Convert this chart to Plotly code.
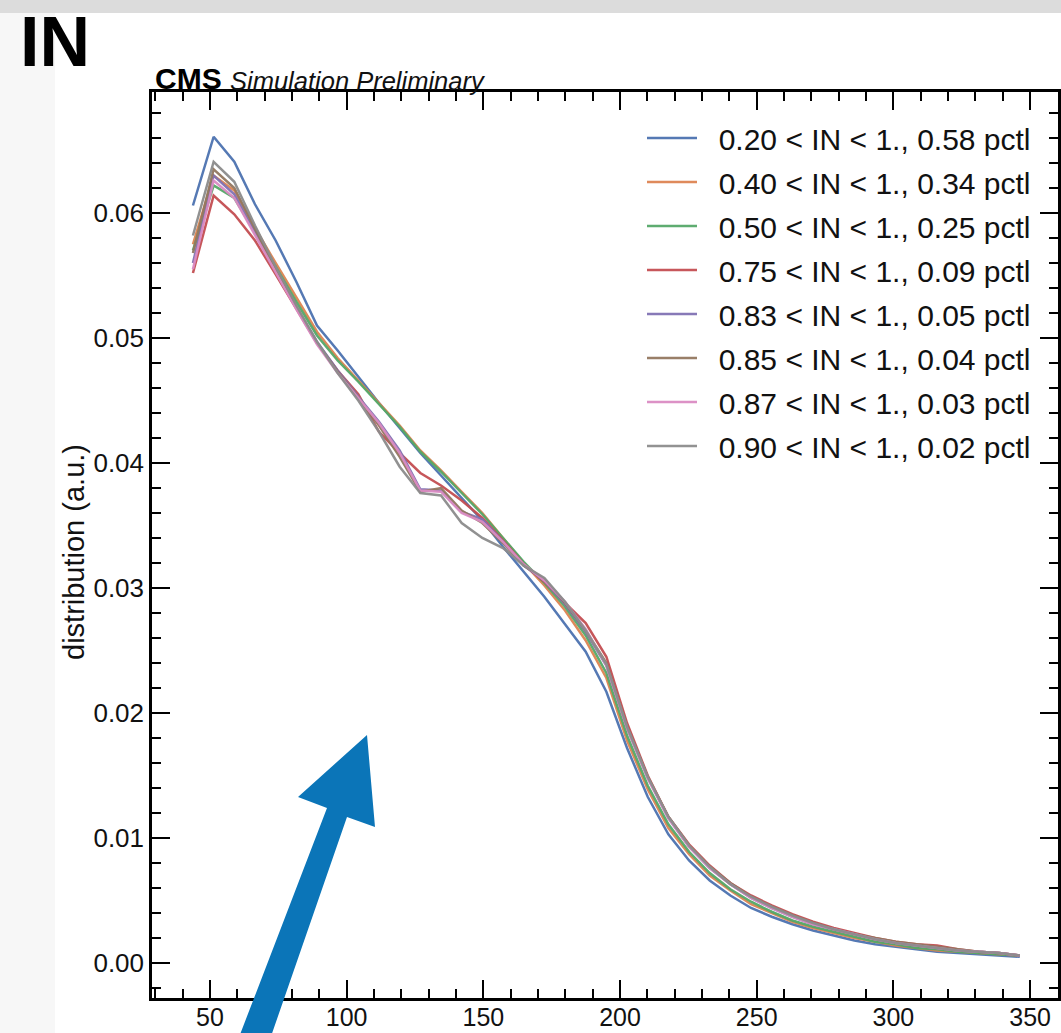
import plotly.graph_objects as go

# ---- data ----
bin_lo, bin_hi, n_bins = 40.0, 350.0, 41
bin_centers = [bin_lo + (i + 0.5) * (bin_hi - bin_lo) / n_bins for i in range(n_bins)]

labels = [
    "0.20 < IN < 1., 0.58 pctl",
    "0.40 < IN < 1., 0.34 pctl",
    "0.50 < IN < 1., 0.25 pctl",
    "0.75 < IN < 1., 0.09 pctl",
    "0.83 < IN < 1., 0.05 pctl",
    "0.85 < IN < 1., 0.04 pctl",
    "0.87 < IN < 1., 0.03 pctl",
    "0.90 < IN < 1., 0.02 pctl",
]
colors = ["#4c72b0", "#dd8452", "#55a868", "#c44e52", "#8172b3", "#937860", "#da8bc3", "#8c8c8c"]

y_020 = [0.0606, 0.0661, 0.0641, 0.0607, 0.0578, 0.0545, 0.0510, 0.0490, 0.0469, 0.0448, 0.0428, 0.0408,
         0.0390, 0.0372, 0.0354, 0.0333, 0.0313, 0.0293, 0.0271, 0.0249, 0.0217, 0.0172, 0.0133, 0.0103,
         0.0082, 0.0066, 0.0054, 0.0044, 0.0037, 0.0031, 0.0026, 0.0022, 0.0018, 0.0015, 0.0013, 0.0011,
         0.0009, 0.0008, 0.0007, 0.0006, 0.0005]
y_040 = [0.0575, 0.0630, 0.0618, 0.0588, 0.0560, 0.0532, 0.0505, 0.0484, 0.0466, 0.0448, 0.0430, 0.0410,
         0.0394, 0.0377, 0.0360, 0.0340, 0.0320, 0.0302, 0.0282, 0.0258, 0.0228, 0.0178, 0.0139, 0.0108,
         0.0087, 0.0070, 0.0058, 0.0047, 0.0040, 0.0033, 0.0028, 0.0024, 0.0020, 0.0017, 0.0014, 0.0012,
         0.0010, 0.0009, 0.0008, 0.0007, 0.0006]
y_050 = [0.0570, 0.0622, 0.0612, 0.0585, 0.0557, 0.0529, 0.0502, 0.0482, 0.0465, 0.0447, 0.0429, 0.0409,
         0.0393, 0.0376, 0.0359, 0.0340, 0.0321, 0.0304, 0.0285, 0.0262, 0.0232, 0.0182, 0.0142, 0.0111,
         0.0089, 0.0072, 0.0059, 0.0049, 0.0041, 0.0034, 0.0029, 0.0025, 0.0021, 0.0017, 0.0015, 0.0012,
         0.0011, 0.0009, 0.0008, 0.0007, 0.0006]
y_075 = [0.0552, 0.0614, 0.0599, 0.0578, 0.0551, 0.0523, 0.0496, 0.0474, 0.0455, 0.0425, 0.0408, 0.0392,
         0.0382, 0.0370, 0.0356, 0.0338, 0.0319, 0.0305, 0.0288, 0.0272, 0.0245, 0.0192, 0.0150, 0.0117,
         0.0095, 0.0078, 0.0064, 0.0054, 0.0046, 0.0039, 0.0033, 0.0028, 0.0024, 0.0020, 0.0017, 0.0015,
         0.0014, 0.0011, 0.0009, 0.0008, 0.0006]
y_083 = [0.0560, 0.0630, 0.0615, 0.0584, 0.0554, 0.0525, 0.0497, 0.0474, 0.0453, 0.0433, 0.0410, 0.0379,
         0.0378, 0.0361, 0.0355, 0.0337, 0.0318, 0.0306, 0.0287, 0.0265, 0.0238, 0.0188, 0.0148, 0.0116,
         0.0093, 0.0076, 0.0063, 0.0052, 0.0044, 0.0037, 0.0031, 0.0027, 0.0023, 0.0019, 0.0016, 0.0014,
         0.0012, 0.0010, 0.0009, 0.0008, 0.0006]
y_085 = [0.0568, 0.0635, 0.0620, 0.0587, 0.0555, 0.0525, 0.0496, 0.0473, 0.0452, 0.0430, 0.0405, 0.0377,
         0.0380, 0.0362, 0.0352, 0.0336, 0.0318, 0.0307, 0.0288, 0.0266, 0.0240, 0.0189, 0.0149, 0.0117,
         0.0094, 0.0077, 0.0064, 0.0053, 0.0045, 0.0038, 0.0032, 0.0027, 0.0023, 0.0020, 0.0017, 0.0015,
         0.0013, 0.0011, 0.0009, 0.0008, 0.0006]
y_087 = [0.0555, 0.0626, 0.0612, 0.0582, 0.0552, 0.0523, 0.0495, 0.0472, 0.0452, 0.0432, 0.0408, 0.0378,
         0.0377, 0.0360, 0.0353, 0.0337, 0.0319, 0.0306, 0.0289, 0.0267, 0.0238, 0.0188, 0.0148, 0.0116,
         0.0093, 0.0076, 0.0063, 0.0052, 0.0044, 0.0037, 0.0031, 0.0027, 0.0023, 0.0019, 0.0016, 0.0014,
         0.0012, 0.0010, 0.0009, 0.0008, 0.0006]
y_090 = [0.0582, 0.0641, 0.0625, 0.0590, 0.0557, 0.0526, 0.0497, 0.0472, 0.0450, 0.0425, 0.0397, 0.0376,
         0.0374, 0.0352, 0.0340, 0.0332, 0.0318, 0.0308, 0.0289, 0.0266, 0.0239, 0.0189, 0.0149, 0.0117,
         0.0094, 0.0077, 0.0063, 0.0053, 0.0045, 0.0038, 0.0032, 0.0027, 0.0023, 0.0019, 0.0016, 0.0014,
         0.0012, 0.0010, 0.0009, 0.0008, 0.0006]

series = [y_020, y_040, y_050, y_075, y_083, y_085, y_087, y_090]

x_tickvals = [50, 100, 150, 200, 250, 300, 350]
y_tickvals = [0.00, 0.01, 0.02, 0.03, 0.04, 0.05, 0.06]

# ---- layout geometry (pixels) ----
W, H = 1061, 1033
L, R, T, B = 152, 3, 92, 35
PW, PH = W - L - R, H - T - B

def px(xp):
    return (xp - L) / PW

def py(yp):
    return (H - B - yp) / PH

FONT = "Liberation Sans, Arial, Helvetica, sans-serif"
NB = "\u00a0\u00a0"  # small gap between legend line and text

fig = go.Figure()
for i, (lab, col, ys) in enumerate(zip(labels, colors, series)):
    fig.add_trace(go.Scatter(
        x=bin_centers, y=ys, mode="lines", name=NB + lab,
        line=dict(color=col, width=2.5), opacity=0.95,
        legendgroup=f"g{i}",
    ))

axis_common = dict(
    showline=True, linecolor="black", linewidth=2.5, mirror="allticks",
    ticks="inside", ticklen=18, tickwidth=1.5, tickcolor="black",
    showgrid=False, zeroline=False, automargin=False,
)

fig.update_xaxes(
    range=[28.8, 360.2], tickvals=x_tickvals, ticklabelstandoff=-5,
    tickfont=dict(family=FONT, size=25, color="#111"),
    minor=dict(dtick=10, tick0=0, ticks="inside", ticklen=9, tickwidth=1.5, tickcolor="black", showgrid=False),
    **axis_common,
)
fig.update_yaxes(
    range=[-0.0028, 0.06968], tickvals=y_tickvals, tickformat=".2f",
    tickfont=dict(family=FONT, size=26, color="#111"),
    minor=dict(dtick=0.002, tick0=0, ticks="inside", ticklen=9, tickwidth=1.5, tickcolor="black", showgrid=False),
    **axis_common,
)

shapes = [
    # slide background pieces
    dict(type="rect", xref="paper", yref="paper", x0=px(0), x1=px(W), y0=py(13), y1=py(0),
         fillcolor="#dcdcdc", line=dict(width=0), layer="below"),
    dict(type="rect", xref="paper", yref="paper", x0=px(0), x1=px(55), y0=py(H + 5), y1=py(13),
         fillcolor="#f7f7f7", line=dict(width=0), layer="below"),
]
arrow_pts = [(236, 1045), (327, 808), (298, 797), (367, 735), (375, 827), (347, 817), (268, 1045)]
path = "M " + " L ".join(f"{px(a):.5f},{py(b):.5f}" for a, b in arrow_pts) + " Z"
shapes.append(dict(type="path", xref="paper", yref="paper", path=path,
                   fillcolor="#0b75b8", line=dict(width=0), layer="above"))

annotations = [
    dict(text="<b>IN</b>", xref="paper", yref="paper", x=px(18), y=py(1), xanchor="left", yanchor="top",
         showarrow=False, font=dict(family=FONT, size=70, color="black")),
    dict(text="<b>CMS</b>", xref="paper", yref="paper", x=px(153), y=py(97), xanchor="left", yanchor="bottom",
         showarrow=False, font=dict(family=FONT, size=30, color="black")),
    dict(text="<i>Simulation Preliminary</i>", xref="paper", yref="paper", x=px(228), y=py(97),
         xanchor="left", yanchor="bottom", showarrow=False, font=dict(family=FONT, size=25.5, color="#111")),
    dict(text="distribution (a.u.)", xref="paper", yref="paper", x=px(74), y=py(552), textangle=-90,
         xanchor="center", yanchor="middle", showarrow=False, font=dict(family=FONT, size=29, color="#111")),
]

fig.update_layout(
    width=W, height=H,
    margin=dict(l=L, r=R, t=T, b=B, pad=0, autoexpand=False),
    paper_bgcolor="white", plot_bgcolor="white",
    font=dict(family=FONT, color="#111"),
    showlegend=True,
    legend=dict(
        x=px(642), y=py(112), xanchor="left", yanchor="top",
        bgcolor="rgba(0,0,0,0)", borderwidth=0,
        font=dict(family=FONT, size=30, color="#111"),
        tracegroupgap=2, itemwidth=50,
    ),
    shapes=shapes,
    annotations=annotations,
)

fig.write_html(
    "out.html",
    config={"displayModeBar": False},
    post_script="document.body.style.margin='0px';document.body.style.overflow='hidden';",
)
